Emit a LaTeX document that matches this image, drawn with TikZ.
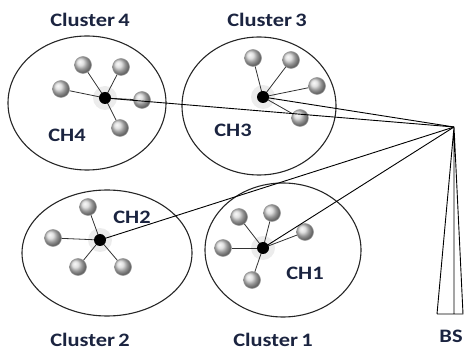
\documentclass[tikz,border=0pt]{standalone}
\usepackage{fontspec}
\setmainfont{Carlito}[FakeStretch=1.18]
\definecolor{navy}{HTML}{1B2440}
\begin{document}
\begin{tikzpicture}[x=1pt,y=-1pt,
  cluster/.style={draw=black!85,line width=1.1pt},
  sat/.style={circle,minimum width=16pt,minimum height=17pt,inner sep=0pt,shading=ball,ball color=gray!32,draw=gray!80,line width=0.5pt},
  halo/.style={circle,minimum size=24pt,inner sep=0pt,fill=gray!15},
  chdot/.style={circle,fill=black,minimum width=12pt,minimum height=10pt,inner sep=0pt},
  spoke/.style={draw=black!80,line width=0.8pt},
  link/.style={draw=black,line width=0.9pt},
  lab/.style={font=\fontsize{19}{20}\selectfont\bfseries,text=navy,inner sep=0pt}]
\useasboundingbox (0,0) rectangle (465,352);
% clusters
\draw[cluster] (87,103) ellipse [x radius=79, y radius=67];
\draw[cluster] (259,106) ellipse [x radius=77, y radius=69];
\draw[cluster] (107,253) ellipse [x radius=85, y radius=63];
\draw[cluster] (283,250) ellipse [x radius=78, y radius=67];
% cluster heads
\coordinate (ch4) at (105,98);
\coordinate (ch3) at (263,97);
\coordinate (ch2) at (100,240);
\coordinate (ch1) at (263,248);
% base station
\coordinate (bs) at (454,127);
\coordinate (bsl) at (437,314);
\coordinate (bsm) at (454,314);
\coordinate (bsr) at (463,314);
\draw[link] (bsl) -- (bs) -- (bsr) -- (bsl) (bs) -- (bsm);
% halos
\foreach \c in {ch4,ch3,ch2,ch1} \node[halo] at (\c) {};
% satellites cluster 4
\node[sat] (s41) at (83,65) {};
\node[sat] (s42) at (121,67) {};
\node[sat] (s43) at (61,89) {};
\node[sat] (s44) at (142,100) {};
\node[sat] (s45) at (120,128) {};
% cluster 3
\node[sat] (s31) at (253,58) {};
\node[sat] (s32) at (291,60) {};
\node[sat] (s33) at (317,86) {};
\node[sat] (s34) at (300,118) {};
% cluster 2
\node[sat] (s21) at (88,207) {};
\node[sat] (s22) at (53,238) {};
\node[sat] (s23) at (78,267) {};
\node[sat] (s24) at (123,267) {};
% cluster 1
\node[sat] (s11) at (239,217) {};
\node[sat] (s12) at (272,213) {};
\node[sat] (s13) at (305,232) {};
\node[sat] (s14) at (223,248) {};
\node[sat] (s15) at (252,280) {};
% spokes
\foreach \s in {s41,s42,s43,s44,s45} \draw[spoke] (ch4) -- (\s);
\foreach \s in {s31,s32,s33,s34} \draw[spoke] (ch3) -- (\s);
\foreach \s in {s21,s22,s23,s24} \draw[spoke] (ch2) -- (\s);
\foreach \s in {s11,s12,s13,s14,s15} \draw[spoke] (ch1) -- (\s);
% links to BS
\foreach \c in {ch4,ch3,ch2,ch1} \draw[link] (\c) -- (bs);
% dots
\foreach \c in {ch4,ch3,ch2,ch1} \node[chdot] at (\c) {};
% labels
\node[lab] (l4) at (90,20) {Cluster\,4};
\node[lab] (l3) at (267,20) {Cluster\,3};
\node[lab] (l2) at (90,340) {Cluster\,2};
\node[lab] (l1) at (273,340) {Cluster\,1};
\node[lab] (t4) at (67,135) {CH4};
\node[lab] (t3) at (233,130) {CH3};
\node[lab] (t2) at (132,217) {CH2};
\node[lab] (t1) at (305,273) {CH1};
\node[lab] (tbs) at (451,336) {BS};
\end{tikzpicture}
\end{document}
